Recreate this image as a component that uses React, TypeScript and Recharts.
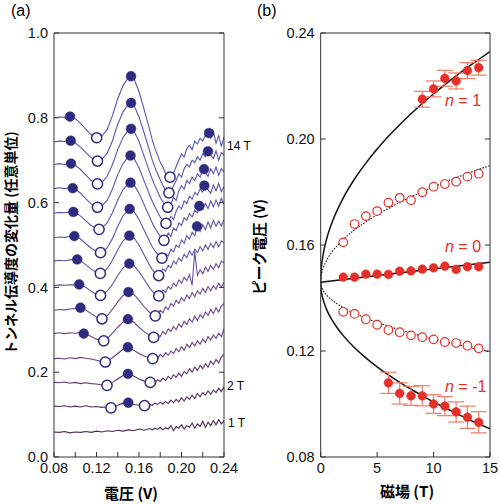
import React from 'react';
import { ComposedChart, Line, Scatter, XAxis, YAxis, ErrorBar } from 'recharts';

// voltage grid (V) shared by all traces of panel (a)
const grid = [
  0.08, 0.085, 0.09, 0.095, 0.1, 0.105, 0.11, 0.115, 0.12, 0.125, 0.13, 0.135, 0.14, 0.145, 0.15, 0.155, 0.16, 0.165,
  0.17, 0.1725, 0.175, 0.1775, 0.18, 0.1825, 0.185, 0.1875, 0.19, 0.1925, 0.195, 0.1975, 0.2, 0.2025, 0.205, 0.2075,
  0.21, 0.2125, 0.215, 0.2175, 0.22, 0.2225, 0.225, 0.2275, 0.23, 0.2325, 0.235, 0.2375, 0.24,
];

const t14 = [0.800, 0.802, 0.801, 0.803, 0.798, 0.787, 0.773, 0.760, 0.753, 0.757, 0.772, 0.805, 0.845, 0.876, 0.895, 0.894, 0.862, 0.818, 0.772, 0.748, 0.728, 0.712, 0.695, 0.684, 0.668, 0.662, 0.660, 0.670, 0.685, 0.700, 0.715, 0.708, 0.728, 0.735, 0.725, 0.745, 0.738, 0.752, 0.745, 0.760, 0.764, 0.752, 0.768, 0.740, 0.758, 0.732, 0.755];
const t13 = [0.743, 0.745, 0.744, 0.746, 0.741, 0.731, 0.718, 0.706, 0.699, 0.702, 0.716, 0.746, 0.785, 0.814, 0.832, 0.831, 0.802, 0.763, 0.722, 0.700, 0.683, 0.668, 0.654, 0.640, 0.630, 0.623, 0.628, 0.640, 0.652, 0.668, 0.660, 0.680, 0.690, 0.684, 0.700, 0.694, 0.708, 0.700, 0.715, 0.708, 0.721, 0.712, 0.704, 0.722, 0.700, 0.718, 0.712];
const t12 = [0.690, 0.692, 0.690, 0.692, 0.688, 0.678, 0.665, 0.652, 0.645, 0.647, 0.662, 0.690, 0.725, 0.754, 0.771, 0.770, 0.744, 0.708, 0.672, 0.655, 0.640, 0.626, 0.612, 0.602, 0.592, 0.589, 0.597, 0.612, 0.605, 0.628, 0.640, 0.632, 0.652, 0.645, 0.660, 0.652, 0.668, 0.660, 0.678, 0.670, 0.662, 0.680, 0.668, 0.684, 0.664, 0.680, 0.672];
const t11 = [0.633, 0.635, 0.633, 0.635, 0.632, 0.622, 0.609, 0.597, 0.590, 0.592, 0.605, 0.632, 0.666, 0.692, 0.708, 0.706, 0.682, 0.650, 0.618, 0.603, 0.590, 0.578, 0.566, 0.558, 0.551, 0.556, 0.568, 0.560, 0.580, 0.592, 0.585, 0.604, 0.598, 0.615, 0.608, 0.624, 0.618, 0.632, 0.625, 0.640, 0.630, 0.622, 0.642, 0.628, 0.645, 0.626, 0.638];
const t10 = [0.575, 0.577, 0.576, 0.578, 0.577, 0.568, 0.557, 0.546, 0.539, 0.540, 0.552, 0.576, 0.606, 0.631, 0.645, 0.643, 0.622, 0.594, 0.566, 0.552, 0.540, 0.530, 0.520, 0.512, 0.514, 0.528, 0.520, 0.540, 0.534, 0.552, 0.546, 0.564, 0.558, 0.574, 0.566, 0.582, 0.576, 0.592, 0.584, 0.598, 0.586, 0.604, 0.590, 0.606, 0.592, 0.610, 0.596];
const t9 = [0.517, 0.519, 0.518, 0.520, 0.521, 0.514, 0.503, 0.493, 0.485, 0.483, 0.493, 0.515, 0.544, 0.569, 0.583, 0.580, 0.560, 0.534, 0.508, 0.496, 0.486, 0.478, 0.471, 0.469, 0.480, 0.474, 0.490, 0.484, 0.500, 0.494, 0.512, 0.504, 0.522, 0.514, 0.530, 0.522, 0.544, 0.532, 0.548, 0.536, 0.554, 0.540, 0.558, 0.544, 0.556, 0.545, 0.560];
const t8 = [0.462, 0.464, 0.463, 0.465, 0.466, 0.463, 0.453, 0.443, 0.435, 0.434, 0.444, 0.464, 0.489, 0.510, 0.521, 0.518, 0.500, 0.476, 0.452, 0.442, 0.434, 0.429, 0.432, 0.444, 0.438, 0.452, 0.446, 0.462, 0.455, 0.470, 0.462, 0.478, 0.470, 0.486, 0.476, 0.490, 0.482, 0.496, 0.486, 0.500, 0.490, 0.504, 0.494, 0.508, 0.496, 0.510, 0.505];
const t7 = [0.404, 0.406, 0.405, 0.406, 0.406, 0.407, 0.400, 0.391, 0.383, 0.382, 0.391, 0.407, 0.428, 0.446, 0.455, 0.452, 0.437, 0.418, 0.399, 0.391, 0.385, 0.381, 0.384, 0.394, 0.388, 0.402, 0.396, 0.410, 0.403, 0.418, 0.410, 0.424, 0.416, 0.430, 0.405, 0.485, 0.428, 0.442, 0.432, 0.448, 0.438, 0.452, 0.442, 0.456, 0.446, 0.462, 0.458];
const t6 = [0.346, 0.348, 0.347, 0.349, 0.350, 0.352, 0.347, 0.338, 0.330, 0.326, 0.333, 0.348, 0.366, 0.381, 0.389, 0.384, 0.370, 0.354, 0.341, 0.336, 0.333, 0.338, 0.346, 0.340, 0.354, 0.348, 0.362, 0.356, 0.370, 0.362, 0.376, 0.368, 0.382, 0.374, 0.388, 0.378, 0.392, 0.384, 0.398, 0.388, 0.402, 0.392, 0.404, 0.396, 0.410, 0.400, 0.412];
const t5 = [0.291, 0.293, 0.291, 0.293, 0.292, 0.294, 0.290, 0.284, 0.278, 0.274, 0.279, 0.292, 0.306, 0.318, 0.325, 0.318, 0.306, 0.295, 0.287, 0.284, 0.282, 0.288, 0.284, 0.296, 0.290, 0.302, 0.296, 0.308, 0.300, 0.314, 0.306, 0.320, 0.312, 0.326, 0.318, 0.332, 0.322, 0.336, 0.328, 0.342, 0.334, 0.348, 0.338, 0.352, 0.342, 0.356, 0.362];
const t4 = [0.232, 0.233, 0.231, 0.234, 0.232, 0.235, 0.233, 0.231, 0.228, 0.225, 0.226, 0.234, 0.244, 0.254, 0.259, 0.252, 0.244, 0.238, 0.234, 0.232, 0.236, 0.232, 0.242, 0.236, 0.246, 0.240, 0.250, 0.244, 0.256, 0.248, 0.260, 0.252, 0.266, 0.258, 0.270, 0.262, 0.274, 0.266, 0.278, 0.270, 0.284, 0.276, 0.288, 0.280, 0.292, 0.284, 0.302];
const t3 = [0.176, 0.175, 0.177, 0.174, 0.176, 0.173, 0.175, 0.173, 0.172, 0.170, 0.169, 0.176, 0.184, 0.192, 0.196, 0.191, 0.184, 0.179, 0.176, 0.178, 0.175, 0.182, 0.178, 0.186, 0.180, 0.190, 0.184, 0.194, 0.188, 0.198, 0.190, 0.202, 0.196, 0.208, 0.200, 0.212, 0.204, 0.216, 0.208, 0.220, 0.212, 0.226, 0.218, 0.230, 0.222, 0.236, 0.242];
const t2 = [0.120, 0.119, 0.121, 0.118, 0.120, 0.118, 0.121, 0.118, 0.119, 0.117, 0.118, 0.116, 0.122, 0.127, 0.128, 0.124, 0.122, 0.121, 0.124, 0.122, 0.127, 0.124, 0.129, 0.125, 0.131, 0.126, 0.134, 0.128, 0.136, 0.130, 0.140, 0.132, 0.142, 0.136, 0.146, 0.138, 0.150, 0.142, 0.152, 0.146, 0.156, 0.148, 0.158, 0.152, 0.162, 0.154, 0.166];
const t1 = [0.059, 0.058, 0.060, 0.057, 0.059, 0.058, 0.060, 0.058, 0.061, 0.059, 0.062, 0.060, 0.063, 0.061, 0.064, 0.062, 0.066, 0.063, 0.067, 0.064, 0.068, 0.065, 0.070, 0.064, 0.069, 0.066, 0.074, 0.062, 0.072, 0.068, 0.076, 0.066, 0.074, 0.070, 0.080, 0.068, 0.078, 0.072, 0.084, 0.070, 0.082, 0.074, 0.086, 0.076, 0.088, 0.078, 0.086];

const traces = [t14, t13, t12, t11, t10, t9, t8, t7, t6, t5, t4, t3, t2, t1];
const traceColors = ['#5656b4', '#5656b2', '#5857b0', '#5a56ae', '#5c55ab', '#5f54a8', '#6353a4', '#66509f', '#684c98', '#694790', '#664085', '#5e3670', '#542d5c', '#4a2a48'];

// peak (filled) and dip (open) positions, [V, value]
const peaks = [
  [0.0951, 0.803], [0.1525, 0.898], [0.2259, 0.764],
  [0.0957, 0.746], [0.1525, 0.835], [0.2249, 0.721],
  [0.0960, 0.692], [0.1525, 0.774], [0.2212, 0.679],
  [0.0976, 0.634], [0.1520, 0.711], [0.2215, 0.640],
  [0.0982, 0.578], [0.1520, 0.647], [0.2168, 0.592],
  [0.0991, 0.521], [0.1512, 0.585], [0.2146, 0.544],
  [0.1019, 0.466], [0.1509, 0.522],
  [0.1037, 0.407], [0.1509, 0.456],
  [0.1049, 0.352], [0.1501, 0.389],
  [0.1080, 0.291], [0.1496, 0.325],
  [0.1495, 0.259], [0.1496, 0.196], [0.1499, 0.128],
];
const dips = [
  [0.1202, 0.753], [0.1892, 0.660], [0.1209, 0.698], [0.1882, 0.623],
  [0.1209, 0.644], [0.1870, 0.589], [0.1209, 0.589], [0.1854, 0.551],
  [0.1224, 0.537], [0.1835, 0.511], [0.1238, 0.482], [0.1816, 0.469],
  [0.1236, 0.433], [0.1785, 0.428], [0.1238, 0.381], [0.1786, 0.380],
  [0.1252, 0.326], [0.1753, 0.333], [0.1268, 0.274], [0.1738, 0.282],
  [0.1283, 0.224], [0.1729, 0.232], [0.1299, 0.169], [0.1706, 0.176],
  [0.1336, 0.116], [0.1652, 0.121],
];

const vTicks = [0.08, 0.1, 0.12, 0.14, 0.16, 0.18, 0.2, 0.22, 0.24];
const gTicks = [0, 0.2, 0.4, 0.6, 0.8, 1.0];

// panel (b): peak voltage vs field
const bField = [2, 3, 4, 5, 6, 7, 8, 9, 10, 11, 12, 13, 14];
const upperOpen = [0.1610, 0.1679, 0.1709, 0.1728, 0.1760, 0.1778, 0.1769, 0.1799, 0.1820, 0.1830, 0.1839, 0.1858, 0.1869];
const n0Peak = [0.1479, 0.1479, 0.1490, 0.1490, 0.1489, 0.1501, 0.1502, 0.1509, 0.1514, 0.1520, 0.1508, 0.1518, 0.1518];
const lowerOpen = [0.1348, 0.1340, 0.1320, 0.1299, 0.1279, 0.1271, 0.1259, 0.1252, 0.1244, 0.1234, 0.1230, 0.1220, 0.1210];
const n1Field = [9, 10, 11, 12, 13, 14];
const n1Peak = [0.2150, 0.2189, 0.2229, 0.2219, 0.2258, 0.2269];
const n1Err = [0.003, 0.003, 0.003, 0.003, 0.003, 0.0028];
const nm1Field = [6, 7, 8, 9, 10, 11, 12, 13, 14];
const nm1Peak = [0.1080, 0.1040, 0.1031, 0.1031, 0.1000, 0.0992, 0.0970, 0.0950, 0.0931];
const nm1Err = [0.004, 0.004, 0.0036, 0.0038, 0.0035, 0.0036, 0.0038, 0.0042, 0.004];

const fitField = [0, 0.03, 0.1, 0.25, 0.5, 1, 1.5, 2, 3, 4, 5, 6, 7, 8, 9, 10, 11, 12, 13, 14, 15];
const fitN1 = [0.1460, 0.1499, 0.1531, 0.1572, 0.1619, 0.1685, 0.1735, 0.1778, 0.1849, 0.1909, 0.1962, 0.2010, 0.2054, 0.2095, 0.2134, 0.2170, 0.2205, 0.2238, 0.2270, 0.2300, 0.2330];
const fitUpperDot = [0.1460, 0.1480, 0.1496, 0.1517, 0.1540, 0.1574, 0.1599, 0.1621, 0.1657, 0.1687, 0.1714, 0.1738, 0.1761, 0.1781, 0.1801, 0.1819, 0.1837, 0.1854, 0.1870, 0.1885, 0.1900];
const fitLowerDot = [0.1460, 0.1448, 0.1439, 0.1426, 0.1412, 0.1392, 0.1377, 0.1364, 0.1342, 0.1324, 0.1308, 0.1294, 0.1280, 0.1268, 0.1256, 0.1245, 0.1235, 0.1225, 0.1215, 0.1206, 0.1197];
const fitNm1 = [0.1460, 0.1435, 0.1415, 0.1389, 0.1359, 0.1317, 0.1285, 0.1258, 0.1212, 0.1174, 0.1140, 0.1110, 0.1082, 0.1056, 0.1031, 0.1008, 0.0986, 0.0965, 0.0944, 0.0925, 0.0906];
const n0FitField = [0, 15];
const n0Fit = [0.1459, 0.1535];

const bTicks = [0, 5, 10, 15];
const pTicks = [0.08, 0.12, 0.16, 0.2, 0.24];

const numFont = '"Liberation Sans", Arial, sans-serif';
const jpFont = '"Noto Sans CJK JP", "Noto Sans", sans-serif';
const frame = '#333';
const navy = '#2e2a80';
const red = '#e5302a';

const pairs = (xs: number[], ys: number[]) => xs.map((x, i) => ({ x, y: ys[i] }));

const Dot = (fill: string, stroke: string, r: number, sw: number) => (p: any) =>
  <circle cx={p.cx} cy={p.cy} r={r} fill={fill} stroke={stroke} strokeWidth={sw} />;

const tickStyle = { fontSize: 14.5, fill: '#111', fontFamily: numFont };

const abs = (x: number, y: number, extra: React.CSSProperties = {}): React.CSSProperties => ({
  position: 'absolute', left: x, top: y, whiteSpace: 'nowrap', lineHeight: 1, ...extra,
});

const PanelA = () => (
  <ComposedChart width={250} height={504} margin={{ top: 32, right: 25, bottom: 46, left: 53 }}>
    <XAxis dataKey="x" type="number" domain={[0.08, 0.24]} ticks={vTicks} interval={0} allowDataOverflow
      tickSize={-5} tickMargin={11} height={1} stroke={frame} tick={tickStyle}
      tickFormatter={(v: number) => (Math.round(v * 100) % 4 === 0 ? v.toFixed(2) : '')} />
    <XAxis xAxisId="top" orientation="top" type="number" domain={[0.08, 0.24]} ticks={vTicks} interval={0}
      allowDataOverflow tickSize={-5} height={1} stroke={frame} tickFormatter={() => ''} />
    <YAxis dataKey="y" type="number" domain={[0, 1]} ticks={gTicks} interval={0} allowDataOverflow
      tickSize={-5} tickMargin={11} width={1} stroke={frame} tick={tickStyle}
      tickFormatter={(v: number) => v.toFixed(1)} />
    <YAxis yAxisId="r" orientation="right" type="number" domain={[0, 1]} ticks={gTicks} interval={0}
      allowDataOverflow tickSize={-5} width={1} stroke={frame} tickFormatter={() => ''} />
    {traces.map((t, k) => (
      <Line key={k} data={pairs(grid, t)} dataKey="y" type="linear" stroke={traceColors[k]} strokeWidth={1.1}
        dot={false} activeDot={false} isAnimationActive={false} />
    ))}
    <Scatter data={peaks.map(([x, y]) => ({ x, y }))} dataKey="y" shape={Dot(navy, navy, 4.9, 0.5)} isAnimationActive={false} />
    <Scatter data={dips.map(([x, y]) => ({ x, y }))} dataKey="y" shape={Dot('#fff', navy, 5.1, 1.5)} isAnimationActive={false} />
  </ComposedChart>
);

const PanelB = () => (
  <ComposedChart width={250} height={504} margin={{ top: 32, right: 9, bottom: 46, left: 69.7 }}>
    <XAxis dataKey="x" type="number" domain={[0, 15]} ticks={bTicks} interval={0} allowDataOverflow
      tickSize={-5} tickMargin={11} height={1} stroke={frame} tick={tickStyle} />
    <XAxis xAxisId="top" orientation="top" type="number" domain={[0, 15]} ticks={bTicks} interval={0}
      allowDataOverflow tickSize={-5} height={1} stroke={frame} tickFormatter={() => ''} />
    <YAxis dataKey="y" type="number" domain={[0.08, 0.24]} ticks={pTicks} interval={0} allowDataOverflow
      tickSize={-5} tickMargin={11} width={1} stroke={frame} tick={tickStyle}
      tickFormatter={(v: number) => v.toFixed(2)} />
    <YAxis yAxisId="r" orientation="right" type="number" domain={[0.08, 0.24]} ticks={pTicks} interval={0}
      allowDataOverflow tickSize={-5} width={1} stroke={frame} tickFormatter={() => ''} />
    <Line data={pairs(fitField, fitN1)} dataKey="y" type="monotone" stroke="#111" strokeWidth={1.5} dot={false} activeDot={false} isAnimationActive={false} />
    <Line data={pairs(fitField, fitNm1)} dataKey="y" type="monotone" stroke="#111" strokeWidth={1.5} dot={false} activeDot={false} isAnimationActive={false} />
    <Line data={pairs(n0FitField, n0Fit)} dataKey="y" type="linear" stroke="#111" strokeWidth={1.5} dot={false} activeDot={false} isAnimationActive={false} />
    <Line data={pairs(fitField, fitUpperDot)} dataKey="y" type="monotone" stroke="#111" strokeWidth={1.1} strokeDasharray="1.5 1.5" dot={false} activeDot={false} isAnimationActive={false} />
    <Line data={pairs(fitField, fitLowerDot)} dataKey="y" type="monotone" stroke="#111" strokeWidth={1.1} strokeDasharray="1.5 1.5" dot={false} activeDot={false} isAnimationActive={false} />
    <Scatter data={pairs(bField, upperOpen)} dataKey="y" shape={Dot('#fff', red, 4.3, 1.2)} isAnimationActive={false} />
    <Scatter data={pairs(bField, lowerOpen)} dataKey="y" shape={Dot('#fff', red, 4.3, 1.2)} isAnimationActive={false} />
    <Scatter data={pairs(bField, n0Peak)} dataKey="y" shape={Dot(red, red, 4.4, 0.5)} isAnimationActive={false} />
    <Scatter data={n1Field.map((x, i) => ({ x, y: n1Peak[i], err: n1Err[i] }))} dataKey="y" shape={Dot(red, red, 4.4, 0.5)} isAnimationActive={false}>
      <ErrorBar dataKey="err" direction="y" width={8} stroke="#f07a66" strokeWidth={1.2} isAnimationActive={false} />
    </Scatter>
    <Scatter data={nm1Field.map((x, i) => ({ x, y: nm1Peak[i], err: nm1Err[i] }))} dataKey="y" shape={Dot(red, red, 4.4, 0.5)} isAnimationActive={false}>
      <ErrorBar dataKey="err" direction="y" width={8} stroke="#f07a66" strokeWidth={1.2} isAnimationActive={false} />
    </Scatter>
  </ComposedChart>
);

export default function App() {
  return (
    <div style={{ position: 'absolute', left: 0, top: 0, width: 500, height: 504, background: '#fff', fontFamily: numFont }}>
      <div style={{ position: 'absolute', left: 0, top: 0 }}><PanelA /></div>
      <div style={{ position: 'absolute', left: 250, top: 0 }}><PanelB /></div>

      <div style={abs(11, 3, { fontSize: 16 })}>(a)</div>
      <div style={abs(257, 3, { fontSize: 16 })}>(b)</div>

      <div style={abs(227, 140, { fontSize: 12 })}>14 T</div>
      <div style={abs(227, 380, { fontSize: 12 })}>2 T</div>
      <div style={abs(228, 417, { fontSize: 12 })}>1 T</div>

      <div style={abs(131, 492, { fontSize: 15, fontFamily: jpFont, fontWeight: 700, transform: 'translate(-50%, -50%)' })}>電圧 (V)</div>
      <div style={abs(407, 490, { fontSize: 15, fontFamily: jpFont, fontWeight: 700, transform: 'translate(-50%, -50%)' })}>磁場 (T)</div>
      <div style={abs(10, 243, { fontSize: 14, fontFamily: jpFont, fontWeight: 700, transform: 'translate(-50%, -50%) rotate(-90deg)' })}>トンネル伝導度の変化量 (任意単位)</div>
      <div style={abs(259, 247, { fontSize: 14.5, fontFamily: jpFont, fontWeight: 700, transform: 'translate(-50%, -50%) rotate(-90deg)' })}>ピーク電圧 (V)</div>

      <div style={abs(445, 93, { fontSize: 16, color: red })}><i>n</i> = 1</div>
      <div style={abs(445, 239, { fontSize: 16, color: red })}><i>n</i> = 0</div>
      <div style={abs(445, 379, { fontSize: 16, color: red })}><i>n</i> = -1</div>
    </div>
  );
}
